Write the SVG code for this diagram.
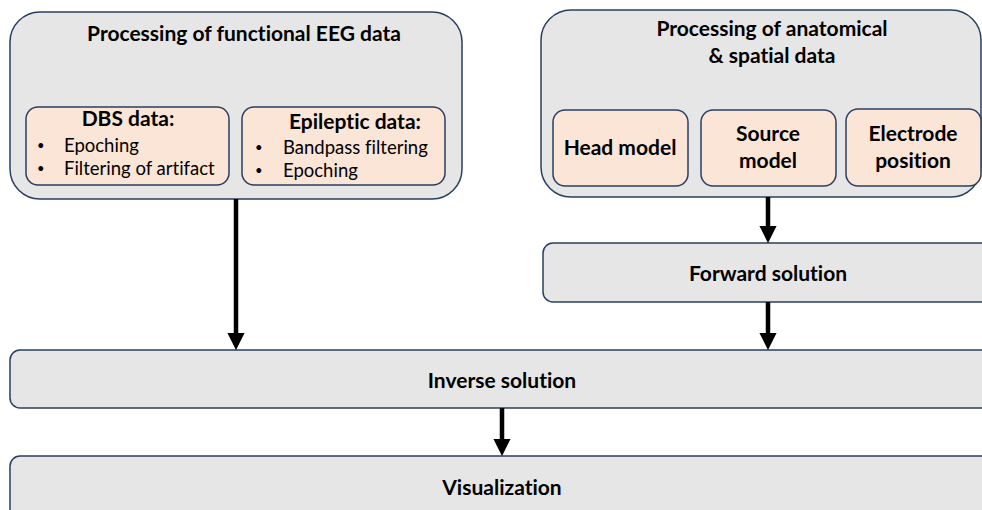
<svg xmlns="http://www.w3.org/2000/svg" width="982" height="510" viewBox="0 0 982 510">
<style>
.big{fill:#e6e6e6;stroke:#2a3f5f;stroke-width:1.5}
.in{fill:#fbe5d6;stroke:#2a3f5f;stroke-width:1.5}
.t{font-family:Lato,"Liberation Sans",sans-serif;fill:#000;font-variant-ligatures:none;font-feature-settings:"liga" 0,"dlig" 0}
.b{font-weight:bold;font-size:21px}
.r{font-size:18.5px}
.d{font-size:13px}
.c{text-anchor:middle}
.arr{stroke:#000;stroke-width:4.5;fill:none}
</style>
<defs>
<marker id="ah" markerWidth="3.8" markerHeight="3.8" refX="0" refY="1.9" orient="auto" markerUnits="strokeWidth">
<path d="M0,0 L3.8,1.9 L0,3.8 Z" fill="#000"/>
</marker>
</defs>
<rect width="982" height="510" fill="#fff"/>
<g id="functional">
<rect class="big" x="10" y="12" width="452" height="187" rx="30"/>
<text class="t b c" x="244" y="41">Processing of functional EEG data</text>
</g>
<g id="dbs">
<rect class="in" x="26" y="107" width="203" height="78" rx="12"/>
<text class="t b c" x="128" y="126">DBS data:</text>
<text class="t d" x="37" y="150">•</text>
<text class="t r" x="64" y="152">Epoching</text>
<text class="t d" x="37" y="173">•</text>
<text class="t r" x="64" y="175">Filtering of artifact</text>
</g>
<g id="epileptic">
<rect class="in" x="242" y="107" width="203" height="78" rx="12"/>
<text class="t b c" x="355" y="129">Epileptic data:</text>
<text class="t d" x="255" y="152">•</text>
<text class="t r" x="283" y="154">Bandpass filtering</text>
<text class="t d" x="255" y="175">•</text>
<text class="t r" x="283" y="177">Epoching</text>
</g>
<g id="anatomical">
<rect class="big" x="541" y="10" width="440" height="187" rx="30"/>
<text class="t b c" x="772" y="36">Processing of anatomical</text>
<text class="t b c" x="772" y="63">&amp; spatial data</text>
</g>
<g id="head">
<rect class="in" x="553" y="110" width="135" height="76" rx="12"/>
<text class="t b c" x="620" y="155">Head model</text>
</g>
<g id="source">
<rect class="in" x="701" y="110" width="135" height="76" rx="12"/>
<text class="t b c" x="768" y="141">Source</text>
<text class="t b c" x="768" y="168">model</text>
</g>
<g id="electrode">
<rect class="in" x="846" y="109" width="135" height="77" rx="12"/>
<text class="t b c" x="913" y="141">Electrode</text>
<text class="t b c" x="913" y="168">position</text>
</g>
<g id="forward">
<rect class="big" x="543" y="243" width="470" height="59" rx="10"/>
<text class="t b c" x="768" y="281">Forward solution</text>
</g>
<g id="inverse">
<rect class="big" x="10" y="350" width="1010" height="58" rx="10"/>
<text class="t b c" x="502" y="388">Inverse solution</text>
</g>
<g id="visualization">
<rect class="big" x="10" y="456" width="1010" height="70" rx="10"/>
<text class="t b c" x="502" y="495">Visualization</text>
</g>
<g id="connectors">
<line class="arr" x1="236" y1="199" x2="236" y2="333" marker-end="url(#ah)"/>
<line class="arr" x1="768" y1="197" x2="768" y2="226" marker-end="url(#ah)"/>
<line class="arr" x1="768" y1="302" x2="768" y2="333" marker-end="url(#ah)"/>
<line class="arr" x1="502" y1="408" x2="502" y2="439" marker-end="url(#ah)"/>
</g>
</svg>
